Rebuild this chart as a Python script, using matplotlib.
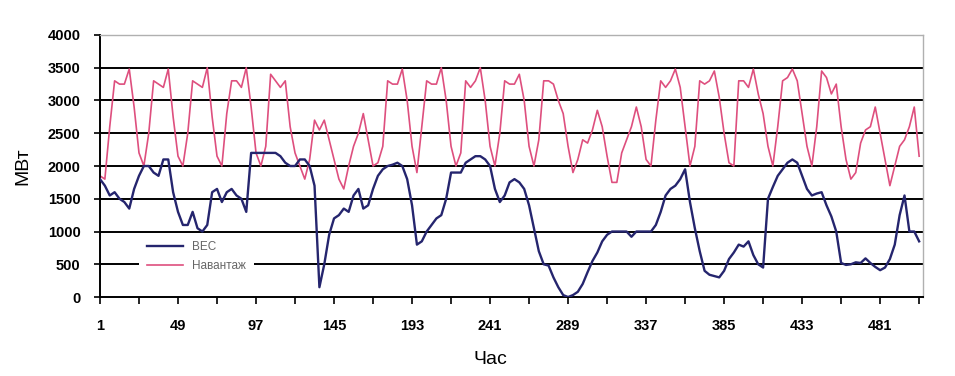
import numpy as np
import matplotlib.pyplot as plt

# hourly series, read every 3rd hour (1, 4, 7, ... 505)
hours = np.arange(1, 506, 3)

# wind farm output (ВЕС), MW
wind = [1800, 1700, 1550, 1600, 1500, 1450, 1350, 1650,
        1850, 2000, 2000, 1900, 1850, 2100, 2100, 1600,
        1300, 1100, 1100, 1300, 1050, 1000, 1100, 1600,
        1650, 1450, 1600, 1650, 1550, 1500, 1300, 2200,
        2200, 2200, 2200, 2200, 2200, 2150, 2050, 2000,
        2000, 2100, 2100, 2000, 1700, 150, 500, 950,
        1200, 1250, 1350, 1300, 1550, 1650, 1350, 1400,
        1650, 1850, 1950, 2000, 2020, 2050, 2000, 1800,
        1400, 800, 850, 1000, 1100, 1200, 1250, 1500,
        1900, 1900, 1900, 2050, 2100, 2150, 2150, 2100,
        2000, 1650, 1450, 1550, 1750, 1800, 1750, 1650,
        1400, 1050, 700, 500, 480, 300, 150, 30,
        0, 30, 80, 200, 380, 550, 680, 850,
        950, 1000, 1000, 1000, 1000, 920, 1000, 1000,
        1000, 1000, 1100, 1300, 1550, 1650, 1700, 1800,
        1950, 1450, 1050, 700, 400, 340, 320, 300,
        400, 580, 680, 800, 770, 850, 640, 500,
        450, 1500, 1680, 1850, 1950, 2050, 2100, 2050,
        1850, 1650, 1550, 1580, 1600, 1400, 1230, 1000,
        520, 490, 500, 530, 520, 590, 520, 460,
        410, 450, 580, 800, 1250, 1550, 1000, 1000,
        850]

# load (Навантаж), MW
load = [1850, 1800, 2600, 3300, 3250, 3250, 3480, 2900,
        2200, 2000, 2500, 3300, 3250, 3200, 3480, 2750,
        2150, 2000, 2500, 3300, 3250, 3200, 3500, 2750,
        2150, 2000, 2800, 3300, 3300, 3200, 3500, 2900,
        2200, 2000, 2300, 3400, 3300, 3200, 3300, 2600,
        2200, 2000, 1800, 2100, 2700, 2550, 2700, 2400,
        2100, 1800, 1650, 2000, 2300, 2500, 2800, 2400,
        2000, 2050, 2300, 3300, 3250, 3250, 3480, 3000,
        2300, 1900, 2600, 3300, 3250, 3250, 3500, 3000,
        2300, 2000, 2200, 3300, 3200, 3300, 3500, 3000,
        2300, 2000, 2500, 3300, 3250, 3250, 3400, 3000,
        2300, 2000, 2400, 3300, 3300, 3250, 3000, 2800,
        2300, 1900, 2100, 2400, 2350, 2550, 2850, 2600,
        2150, 1750, 1750, 2200, 2400, 2600, 2900, 2600,
        2100, 2000, 2700, 3300, 3200, 3300, 3480, 3200,
        2600, 2000, 2300, 3300, 3250, 3300, 3450, 3050,
        2500, 2050, 2000, 3300, 3300, 3200, 3480, 3100,
        2800, 2300, 2000, 2600, 3300, 3350, 3480, 3300,
        2800, 2300, 2000, 2600, 3450, 3350, 3100, 3250,
        2600, 2100, 1800, 1900, 2350, 2550, 2600, 2900,
        2500, 2100, 1700, 2000, 2300, 2400, 2600, 2900,
        2150]

tick_hours = list(range(1, 506, 24))
label_hours = [1, 49, 97, 145, 193, 241, 289, 337, 385, 433, 481]
y_ticks = list(range(0, 4001, 500))

plt.rcParams['font.family'] = ['Liberation Sans', 'DejaVu Sans']

fig = plt.figure(figsize=(9.55, 3.76), dpi=100)
ax = fig.add_axes([0.1047, 0.210, 0.862, 0.697])

for v in y_ticks[1:-1]:
    ax.axhline(v, color='black', lw=1.4, zorder=1)

l_wind, = ax.plot(hours, wind, color='#25256e', lw=1.7, zorder=3, label='ВЕС')
l_load, = ax.plot(hours, load, color='#de4f7e', lw=1.2, zorder=2, label='Навантаж')

ax.set_xlim(1, 507.5)
ax.set_ylim(0, 4000)
ax.set_yticks(y_ticks)
ax.set_yticklabels([str(v) for v in y_ticks], fontsize=10.5, fontweight='bold')
ax.set_xticks(tick_hours)
ax.set_xticklabels([str(h) if h in label_hours else '' for h in tick_hours],
                   fontsize=10.5, fontweight='bold')
ax.tick_params(axis='y', direction='out', length=4, width=1.2, pad=10)
ax.tick_params(axis='x', direction='out', length=5, width=1.2, pad=11)

for s in ['left', 'bottom']:
    ax.spines[s].set_color('black')
    ax.spines[s].set_linewidth(1.4)
for s in ['top', 'right']:
    ax.spines[s].set_color('#b0b0b0')
    ax.spines[s].set_linewidth(1.0)

leg = ax.legend(handles=[l_wind, l_load], loc='lower left',
                bbox_to_anchor=(0.04, 0.04), fontsize=8.5, frameon=True,
                facecolor='white', edgecolor='none', framealpha=1,
                handlelength=3.0, borderpad=0.7, labelspacing=0.6,
                labelcolor='#666666')
leg.set_zorder(5)

ax.set_ylabel('МВт', fontsize=14)
ax.yaxis.set_label_coords(-0.083, 0.5)
fig.text(490 / 955, 1 - 360 / 376, 'Час', ha='center', va='center', fontsize=14)

fig.savefig('out.png', dpi=100)
